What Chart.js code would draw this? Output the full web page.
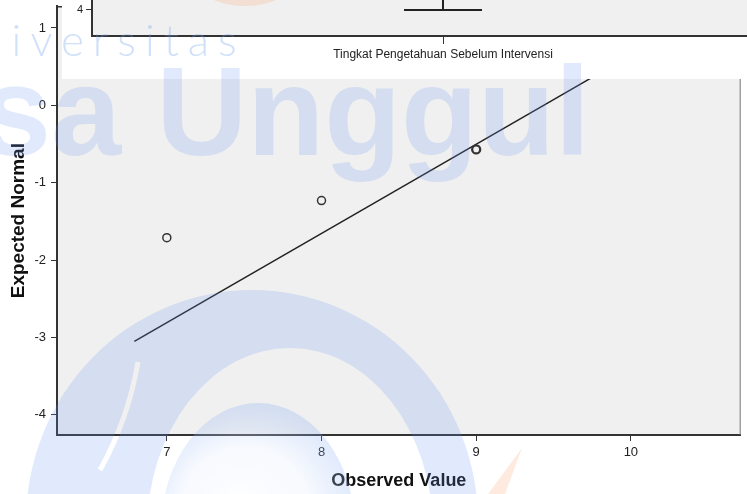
<!DOCTYPE html>
<html>
<head>
<meta charset="utf-8">
<script src="https://cdn.jsdelivr.net/npm/chart.js@4.4.1/dist/chart.umd.min.js"></script>
<style>
  html,body{margin:0;padding:0;background:#fff;}
  #wrap{position:relative;width:747px;height:494px;overflow:hidden;}
  #qq{position:absolute;left:0;top:0;}
  #boxWrap{position:absolute;left:62px;top:0;width:685px;height:79px;overflow:hidden;background:#fff;}
  #box{position:absolute;left:0;top:0;}
  #wm{position:absolute;left:0;top:0;pointer-events:none;}
</style>
</head>
<body>
<div id="wrap">
  <canvas id="qq" width="747" height="494"></canvas>
  <div id="boxWrap"><canvas id="box" width="732" height="79"></canvas></div>
  <canvas id="wm" width="747" height="494"></canvas>
</div>
<script>
// Q-Q plot values
const observed = [7, 8, 9];
const expected = [-1.71, -1.23, -0.57];
const pointWidths = [1.5, 1.5, 2.3];   // the 9 marker is drawn over itself several times
const refLineX = [6.79, 10.4];
const refLineY = [-3.05, 1.11];
const xMin = 6.29, xMax = 10.71;
const yMin = -4.26, yMax = 1.28;

// boxplot fragment lying over the top of the Q-Q plot
const boxLabels = ['Tingkat Pengetahuan Sebelum Intervensi'];
const whiskerLow = [4];
const whiskerHigh = [5];
const boxYMin = 3.13, boxYMax = 4.33;

const FONT = 'Liberation Sans';
const INK = '#222';

const plotBg = {
  id:'plotBg',
  beforeDraw(chart){
    const {ctx, chartArea:a} = chart;
    ctx.save();
    ctx.fillStyle = '#f0f0f0';
    ctx.fillRect(a.left, a.top, a.right-a.left, a.bottom-a.top);
    ctx.restore();
  }
};
const frame = {
  id:'frame',
  afterDraw(chart){
    const {ctx, chartArea:a} = chart;
    ctx.save();
    ctx.lineWidth = 1.5;
    ctx.strokeStyle = '#333';
    ctx.beginPath(); ctx.moveTo(a.left, a.top+0.5); ctx.lineTo(a.right, a.top+0.5); ctx.stroke();
    ctx.lineWidth = 1;
    ctx.strokeStyle = '#777';
    ctx.beginPath(); ctx.moveTo(a.right-0.5, a.top); ctx.lineTo(a.right-0.5, a.bottom); ctx.stroke();
    ctx.restore();
  }
};
function noPad(s){ s.paddingTop = 0; s.paddingBottom = 0; s.paddingLeft = 0; s.paddingRight = 0; }

new Chart(document.getElementById('qq'), {
  type:'scatter',
  data:{
    datasets:[
      { label:'Observed',
        data: observed.map((x,i)=>({x, y:expected[i]})),
        pointRadius:4, pointHoverRadius:4,
        pointBorderColor:'#333', pointBackgroundColor:'rgba(0,0,0,0)',
        pointBorderWidth: pointWidths },
      { label:'Normal line', type:'line',
        data: refLineX.map((x,i)=>({x, y:refLineY[i]})),
        borderColor:'#222', borderWidth:1.5, pointRadius:0, fill:false }
    ]
  },
  options:{
    responsive:false, animation:false, devicePixelRatio:1,
    layout:{ padding:{ top:6, right:4, left:0, bottom:0 } },
    plugins:{ legend:{display:false}, tooltip:{enabled:false} },
    scales:{
      x:{ type:'linear', min:xMin, max:xMax,
          ticks:{ stepSize:1, includeBounds:false, color:INK, padding:4, font:{family:FONT, size:13} },
          grid:{ drawOnChartArea:false, tickLength:6, color:'#333' },
          border:{ color:'#333', width:2 },
          title:{ display:true, text:'Observed Value', color:'#111',
                  font:{family:FONT, size:18, weight:'bold'}, padding:{top:0, bottom:2} },
          afterFit(s){ s.height = 59; noPad(s); } },
      y:{ min:yMin, max:yMax,
          ticks:{ stepSize:1, includeBounds:false, color:INK, padding:5, font:{family:FONT, size:13} },
          grid:{ drawOnChartArea:false, tickLength:6, color:'#333' },
          border:{ color:'#333', width:2 },
          title:{ display:true, text:'Expected Normal', color:'#111',
                  font:{family:FONT, size:19, weight:'bold'}, padding:{top:7, bottom:0} },
          afterFit(s){ s.width = 57; noPad(s); } }
    }
  },
  plugins:[plotBg, frame]
});

// whisker drawn from the boxplot arrays
const whisker = {
  id:'whisker',
  afterDatasetsDraw(chart){
    const {ctx, chartArea:a, scales:{x, y}} = chart;
    ctx.save();
    ctx.beginPath(); ctx.rect(a.left, a.top, a.right-a.left, a.bottom-a.top); ctx.clip();
    ctx.strokeStyle = '#222'; ctx.lineWidth = 2;
    boxLabels.forEach((l,i)=>{
      const cx = x.getPixelForValue(i);
      const y1 = y.getPixelForValue(whiskerLow[i]);
      const y2 = y.getPixelForValue(whiskerHigh[i]);
      ctx.beginPath(); ctx.moveTo(cx, y1); ctx.lineTo(cx, y2); ctx.stroke();
      ctx.beginPath(); ctx.moveTo(cx-39, y1); ctx.lineTo(cx+39, y1); ctx.stroke();
    });
    ctx.restore();
  }
};

new Chart(document.getElementById('box'), {
  type:'bar',
  data:{ labels:boxLabels, datasets:[{ data:whiskerLow.map((v,i)=>[v, whiskerHigh[i]]),
         backgroundColor:'rgba(0,0,0,0)', borderWidth:0 }] },
  options:{
    responsive:false, animation:false, devicePixelRatio:1,
    layout:{ padding:0 },
    plugins:{ legend:{display:false}, tooltip:{enabled:false} },
    scales:{
      x:{ ticks:{ color:INK, padding:3, font:{family:FONT, size:12} },
          grid:{ drawOnChartArea:false, offset:false, tickLength:8, color:'#333' },
          border:{ color:'#333', width:2 },
          afterFit(s){ s.height = 43; } },
      y:{ min:boxYMin, max:boxYMax,
          ticks:{ stepSize:1, includeBounds:false, color:INK, padding:3, font:{family:FONT, size:11} },
          grid:{ drawOnChartArea:false, tickLength:6, color:'#333' },
          border:{ color:'#333', width:2 },
          afterFit(s){ s.width = 30; s.paddingTop = 0; s.paddingBottom = 0; } }
    }
  },
  plugins:[plotBg, whisker]
});

// university watermark printed across the screenshot
(function(){
  const g = document.getElementById('wm').getContext('2d');
  const blue = 'rgba(100,150,240,0.2)';

  // large swoosh ring
  g.beginPath();
  g.ellipse(252, 522, 226, 232, 0, 0, Math.PI*2);
  g.ellipse(290, 530, 143, 182, 0, 0, Math.PI*2);
  g.fillStyle = blue; g.fill('evenodd');

  // thin gap that splits the outer tail
  g.save();
  g.globalCompositeOperation = 'destination-out';
  g.strokeStyle = 'rgba(0,0,0,1)'; g.lineWidth = 5;
  g.beginPath(); g.moveTo(138, 362); g.quadraticCurveTo(128, 420, 100, 470); g.stroke();
  g.restore();

  // inner ring with pale centre
  const rg = g.createRadialGradient(238, 505, 5, 252, 520, 125);
  rg.addColorStop(0, 'rgba(255,255,255,0.6)');
  rg.addColorStop(0.5, 'rgba(230,238,252,0.3)');
  rg.addColorStop(1, 'rgba(100,150,240,0.24)');
  g.beginPath(); g.ellipse(258, 530, 97, 127, 0, 0, Math.PI*2);
  g.fillStyle = rg; g.fill();

  // orange accents
  g.fillStyle = 'rgba(250,150,90,0.2)';
  g.beginPath(); g.moveTo(522, 448); g.lineTo(505, 494); g.lineTo(488, 494); g.closePath(); g.fill();
  g.beginPath(); g.ellipse(245, -28, 55, 34, 0, 0, Math.PI*2); g.fill();

  // text
  g.fillStyle = blue;
  g.font = 'bold 126px "Liberation Sans"';
  g.textBaseline = 'alphabetic';
  g.fillText('Esa Unggul', -103, 155);

  g.fillStyle = 'rgba(110,160,235,0.32)';
  g.font = '300 44px Lato';
  if('letterSpacing' in g) g.letterSpacing = '9px';
  g.fillText('Universitas', -62, 56);
})();
</script>
</body>
</html>
